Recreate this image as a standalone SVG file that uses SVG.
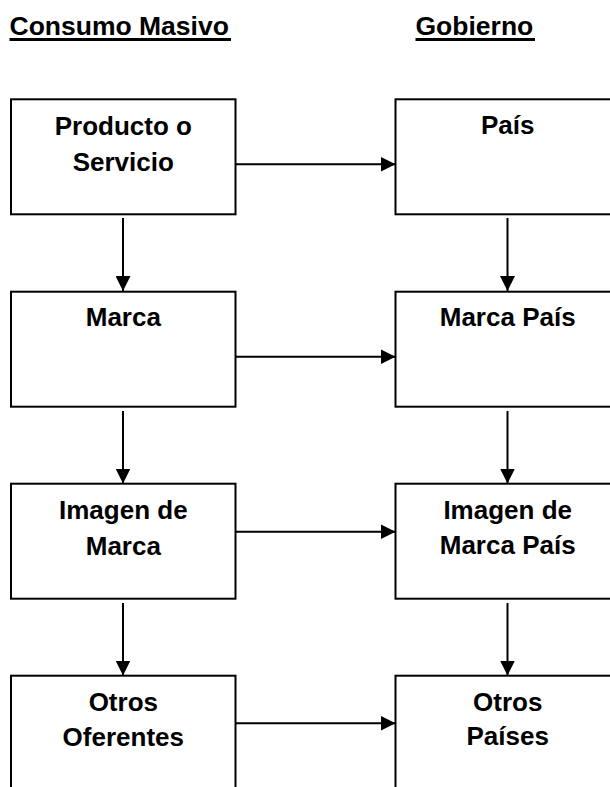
<svg xmlns="http://www.w3.org/2000/svg" width="610" height="787" viewBox="0 0 610 787">
  <defs>
    <style>
      .box { fill: #ffffff; stroke: #000000; stroke-width: 2; }
      .lbl { font-family: "Liberation Sans", Arial, sans-serif; font-weight: bold; font-size: 26px; text-anchor: middle; fill: #000000; }
      .hdr { font-family: "Liberation Sans", Arial, sans-serif; font-weight: bold; font-size: 26.5px; fill: #000000; }
      .uline { stroke: #000000; stroke-width: 3; }
      .conn { stroke: #000000; stroke-width: 2; fill: none; marker-end: url(#arrow); }
    </style>
    <marker id="arrow" markerUnits="userSpaceOnUse" markerWidth="15" markerHeight="15" refX="15" refY="7.5" orient="auto">
      <path d="M0,0 L15,7.5 L0,15 Z" fill="#000000"/>
    </marker>
  </defs>
  <rect width="610" height="787" fill="#ffffff"/>

  <g id="headers">
    <text class="hdr" x="9.5" y="35">Consumo Masivo</text>
    <line class="uline" x1="9.5" y1="39.5" x2="231" y2="39.5"/>
    <text class="hdr" x="415.5" y="35">Gobierno</text>
    <line class="uline" x1="415.5" y1="39.5" x2="535" y2="39.5"/>
  </g>

  <g id="connectors">
    <line class="conn" x1="123" y1="218" x2="123" y2="291"/>
    <line class="conn" x1="123" y1="411" x2="123" y2="483.5"/>
    <line class="conn" x1="123" y1="603" x2="123" y2="675.5"/>
    <line class="conn" x1="507.5" y1="218" x2="507.5" y2="291"/>
    <line class="conn" x1="507.5" y1="411" x2="507.5" y2="483.5"/>
    <line class="conn" x1="507.5" y1="603" x2="507.5" y2="675.5"/>
    <line class="conn" x1="235.5" y1="164.3" x2="395.5" y2="164.3"/>
    <line class="conn" x1="235.5" y1="356.7" x2="395.5" y2="356.7"/>
    <line class="conn" x1="235.5" y1="531.7" x2="395.5" y2="531.7"/>
    <line class="conn" x1="235.5" y1="723.3" x2="395.5" y2="723.3"/>
  </g>

  <g id="producto">
    <rect class="box" x="11" y="99.3" width="224.5" height="115"/>
    <text class="lbl" x="123.3" y="135">Producto o</text>
    <text class="lbl" x="123.3" y="170.7">Servicio</text>
  </g>
  <g id="pais">
    <rect class="box" x="395.5" y="99.3" width="224.5" height="115"/>
    <text class="lbl" x="507.7" y="134.3">País</text>
  </g>

  <g id="marca">
    <rect class="box" x="11" y="291.7" width="224.5" height="115"/>
    <text class="lbl" x="123.3" y="326">Marca</text>
  </g>
  <g id="marca-pais">
    <rect class="box" x="395.5" y="291.7" width="224.5" height="115"/>
    <text class="lbl" x="507.7" y="326">Marca País</text>
  </g>

  <g id="imagen-marca">
    <rect class="box" x="11" y="483.7" width="224.5" height="115"/>
    <text class="lbl" x="123.3" y="519">Imagen de</text>
    <text class="lbl" x="123.3" y="555">Marca</text>
  </g>
  <g id="imagen-marca-pais">
    <rect class="box" x="395.5" y="483.7" width="224.5" height="115"/>
    <text class="lbl" x="507.7" y="519">Imagen de</text>
    <text class="lbl" x="507.7" y="554">Marca País</text>
  </g>

  <g id="otros-oferentes">
    <rect class="box" x="11" y="675.7" width="224.5" height="130"/>
    <text class="lbl" x="123.3" y="711">Otros</text>
    <text class="lbl" x="123.3" y="746">Oferentes</text>
  </g>
  <g id="otros-paises">
    <rect class="box" x="395.5" y="675.7" width="224.5" height="130"/>
    <text class="lbl" x="507.7" y="711">Otros</text>
    <text class="lbl" x="507.7" y="745">Países</text>
  </g>
</svg>
